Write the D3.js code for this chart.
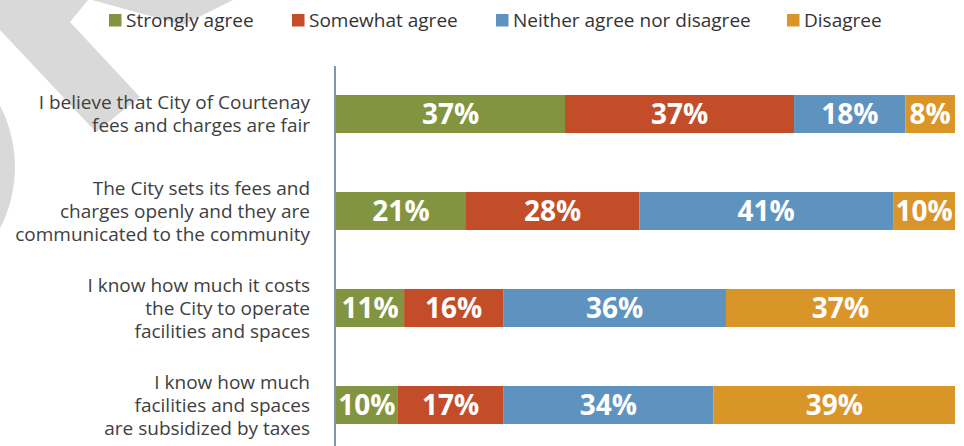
<!DOCTYPE html>
<html>
<head>
<meta charset="utf-8">
<script src="https://cdn.jsdelivr.net/npm/d3@7"></script>
<style>
  html, body { margin: 0; padding: 0; background: #ffffff; }
  svg { display: block; font-family: "Open Sans", "Noto Sans", sans-serif; }
</style>
</head>
<body>
<svg id="chart" width="964" height="446"></svg>
<script>
// ---- data ----
const categories = [
  "I believe that City of Courtenay\nfees and charges are fair",
  "The City sets its fees and\ncharges openly and they are\ncommunicated to the community",
  "I know how much it costs\nthe City to operate\nfacilities and spaces",
  "I know how much\nfacilities and spaces\nare subsidized by taxes"
];
const seriesNames = ["Strongly agree", "Somewhat agree", "Neither agree nor disagree", "Disagree"];
const stronglyAgree = [37, 21, 11, 10];
const somewhatAgree = [37, 28, 16, 17];
const neither = [18, 41, 36, 34];
const disagree = [8, 10, 37, 39];
const seriesColors = ["#839440", "#c34d29", "#5f93bf", "#da9529"];

const seriesValues = [stronglyAgree, somewhatAgree, neither, disagree];

const svg = d3.select("#chart");

// ---- background watermark shapes ----
const wm = svg.append("g").attr("fill", "#d9d9d9");
wm.append("path").attr("d", "M0,0 L88,0 L70,22 L140,97 L96,132 L0,30 Z");
wm.append("path").attr("d", "M92,0 L233,0 L183,25 Z");
wm.append("circle").attr("cx", -118).attr("cy", 167).attr("r", 133);

// ---- scales ----
const x = d3.scaleLinear().domain([0, 100]).range([336, 955]);
const y = d3.scaleBand().domain(d3.range(categories.length))
  .range([65.5, 453.5]).paddingInner(0.608).paddingOuter(0.304);

// stacked data
const rows = categories.map((c, i) => {
  const o = { idx: i };
  seriesNames.forEach((s, j) => { o[s] = seriesValues[j][i]; });
  return o;
});
const stack = d3.stack().keys(seriesNames)(rows);

const gBars = svg.append("g");
stack.forEach((layer, j) => {
  const g = gBars.append("g").attr("fill", seriesColors[j]);
  g.selectAll("rect").data(layer).join("rect")
    .attr("x", d => x(d[0]))
    .attr("width", d => x(d[1]) - x(d[0]))
    .attr("y", d => y(d.data.idx))
    .attr("height", y.bandwidth());
  gBars.append("g").selectAll("text").data(layer).join("text")
    .attr("x", d => (x(d[0]) + x(d[1])) / 2)
    .attr("y", d => y(d.data.idx) + y.bandwidth() / 2)
    .attr("dy", "0.36em")
    .attr("text-anchor", "middle")
    .attr("fill", "#ffffff")
    .attr("font-weight", 700)
    .attr("font-size", 28)
    .text(d => (d[1] - d[0]) + "%");
});

// ---- axis line ----
const yAxis = d3.axisLeft(y).tickSize(0).tickFormat("");
const ax = svg.append("g").attr("transform", "translate(335,0)").call(yAxis);
ax.select(".domain").attr("stroke", "#7f97a8").attr("stroke-width", 2)
  .attr("d", "M0,66V446");

// ---- category labels ----
const lineH = 23;
const gLab = svg.append("g").attr("font-size", 19).attr("fill", "#404040").attr("text-anchor", "end");
categories.forEach((c, i) => {
  const lines = c.split("\n");
  const cy = y(i) + y.bandwidth() / 2;
  lines.forEach((ln, k) => {
    gLab.append("text")
      .attr("x", 310)
      .attr("y", cy - (lines.length - 1) * lineH / 2 + k * lineH)
      .attr("dy", "0.35em")
      .text(ln);
  });
});

// ---- legend ----
const legendX = [109, 292, 496, 787];
const leg = svg.append("g");
seriesNames.forEach((s, j) => {
  leg.append("rect").attr("x", legendX[j]).attr("y", 14).attr("width", 12.5).attr("height", 12.5)
    .attr("fill", seriesColors[j]);
  leg.append("text").attr("x", legendX[j] + 17).attr("y", 20).attr("dy", "0.35em")
    .attr("font-size", 19).attr("fill", "#333333").text(s);
});
</script>
</body>
</html>
